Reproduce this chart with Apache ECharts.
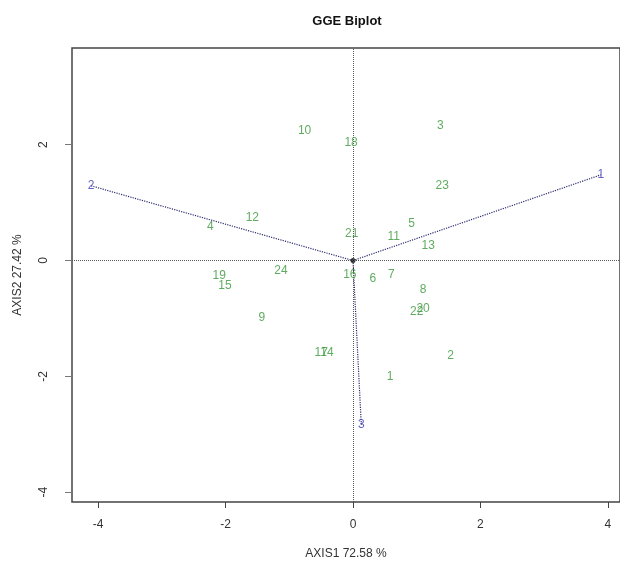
<!DOCTYPE html>
<html lang="en">
<head>
    <meta charset="UTF-8">
    <title>GGE Biplot</title>
    <script src="https://cdn.jsdelivr.net/npm/echarts@6/dist/echarts.min.js"></script>
</head>
<body style="margin:0">
    <div id="main" style="width: 620px; height: 565px"></div>
    <script type="text/javascript">
        // genotype scores (green labels)
        var genoNames = ['1','2','3','4','5','6','7','8','9','10','11','12','13','14','15','16','17','18','19','20','21','22','23','24'];
        var genoX = [0.58, 1.53, 1.37, -2.24, 0.92, 0.31, 0.60, 1.10, -1.43, -0.76, 0.64, -1.58, 1.18, -0.41, -2.01, -0.05, -0.50, -0.03, -2.10, 1.10, -0.02, 1.00, 1.40, -1.13];
        var genoY = [-2.00, -1.64, 2.33, 0.59, 0.64, -0.31, -0.24, -0.50, -0.98, 2.24, 0.41, 0.74, 0.26, -1.59, -0.43, -0.24, -1.59, 2.03, -0.26, -0.83, 0.47, -0.88, 1.29, -0.17];
        // environment vectors (blue)
        var envNames = ['1','2','3'];
        var envX = [3.89, -4.11, 0.13];
        var envY = [1.48, 1.29, -2.84];
        var tickValues = [-4, -2, 0, 2, 4];

        var genoData = [];
        for (var i = 0; i < genoNames.length; i++) {
            genoData.push({ name: genoNames[i], value: [genoX[i], genoY[i]] });
        }
        var envData = [];
        var vecData = [];
        for (var j = 0; j < envNames.length; j++) {
            envData.push({ name: envNames[j], value: [envX[j], envY[j]] });
            vecData.push({ coords: [[0, 0], [envX[j], envY[j]]] });
        }

        var option = {
            animation: false,
            title: {
                text: 'GGE Biplot',
                left: 342,
                textAlign: 'center',
                top: 10,
                textStyle: { fontFamily: 'Liberation Sans', fontSize: 13, fontWeight: 'bold', color: '#111' }
            },
            grid: {
                left: 72, top: 48, right: -1, bottom: 62,
                show: true, borderColor: '#444', borderWidth: 1.5
            },
            xAxis: {
                type: 'value', min: -4.41, max: 4.19,
                name: 'AXIS1 72.58 %', nameLocation: 'middle', nameGap: 46,
                nameTextStyle: { fontFamily: 'Liberation Sans', fontSize: 12, color: '#333' },
                axisLine: { show: false, onZero: false },
                splitLine: { show: false },
                axisTick: { show: true, length: 6, customValues: tickValues, lineStyle: { color: '#444' } },
                axisLabel: { customValues: tickValues, margin: 17, fontFamily: 'Liberation Sans', fontSize: 12, color: '#333' }
            },
            yAxis: {
                type: 'value', min: -4.17, max: 3.67,
                name: 'AXIS2 27.42 %', nameLocation: 'middle', nameGap: 48,
                nameTextStyle: { fontFamily: 'Liberation Sans', fontSize: 12, color: '#333' },
                axisLine: { show: false, onZero: false },
                splitLine: { show: false },
                axisTick: { show: true, length: 7, customValues: tickValues, lineStyle: { color: '#777' } },
                axisLabel: { customValues: tickValues, rotate: 90, margin: 22, fontFamily: 'Liberation Sans', fontSize: 12, color: '#333' }
            },
            series: [
                {
                    type: 'lines',
                    coordinateSystem: 'cartesian2d',
                    data: vecData,
                    symbol: 'none',
                    lineStyle: { color: '#2a2a70', width: 1.2, type: 'dotted', opacity: 1 },
                    z: 2
                },
                {
                    type: 'scatter',
                    data: [[0, 0]],
                    symbolSize: 5,
                    itemStyle: { color: '#000' },
                    silent: true,
                    z: 4,
                    markLine: {
                        silent: true,
                        symbol: 'none',
                        label: { show: false },
                        lineStyle: { color: '#555', type: 'dotted', width: 1 },
                        data: [{ xAxis: 0 }, { yAxis: 0 }]
                    }
                },
                {
                    type: 'scatter',
                    data: genoData,
                    symbolSize: 0,
                    silent: true,
                    label: {
                        show: true, position: 'inside', formatter: '{b}',
                        fontFamily: 'Liberation Sans', fontSize: 12, color: '#379637'
                    },
                    z: 5
                },
                {
                    type: 'scatter',
                    data: envData,
                    symbolSize: 0,
                    silent: true,
                    label: {
                        show: true, position: 'inside', formatter: '{b}',
                        fontFamily: 'Liberation Sans', fontSize: 12, color: '#3b3bb0'
                    },
                    z: 5
                }
            ]
        };
        var chart = echarts.init(document.getElementById('main'));
        chart.setOption(option);
    </script>
</body>
</html>
